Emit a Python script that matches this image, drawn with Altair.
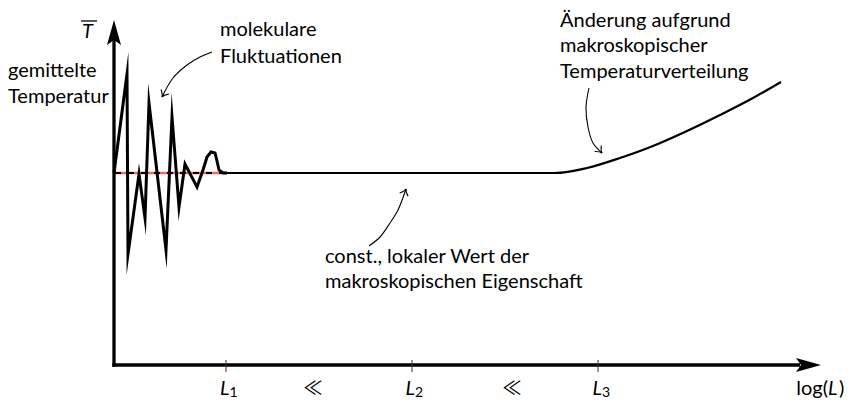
import math
import altair as alt
import pandas as pd

# ---- coordinate frame (origin = corner of the axes) ----
X_DOMAIN = [-106, 730]
Y_DOMAIN = [-34, 357]

# fluctuating curve (molecular fluctuations)
zig_x = [0, 13, 14, 25, 31, 35, 52, 58, 65, 71, 83, 89, 93, 97, 101, 103, 105, 109, 113]
zig_y = [192, 291, 111, 191, 147, 262, 115, 248, 158, 201, 178, 195, 208, 213, 212, 204, 195, 192, 192]

# constant plateau and macroscopic rise
plat_x = [113, 300, 441, 473, 506, 539, 573, 606, 639, 667]
plat_y = [192, 192, 192, 197, 207, 219, 234, 250, 267, 283]

# mean value (dashed) line
mean_x = [1, 113]
mean_y = [192, 192]

# axes
yaxis_top = 325
xaxis_right = 686
yhead_center = 332.5
xhead_center = 694.5

# tick positions on log(L)
tick_x = [112, 298, 484]
tick_lbl_x = [115.5, 301, 488]
tick_sub = ["1", "2", "3"]
ll_x = [199, 398]

# annotation arrows
arr1_x = [98, 86, 73, 59, 48]
arr1_y = [313, 308, 300, 287, 268]
arr2_x = [475, 472, 474, 479, 488]
arr2_y = [277, 258, 238, 222, 212]
arr3_x = [255, 266, 276, 284, 292]
arr3_y = [119, 128, 142, 155, 176]

# annotation texts
txt_lines = ["gemittelte", "Temperatur",
             "molekulare", "Fluktuationen",
             "Änderung aufgrund", "makroskopischer", "Temperaturverteilung",
             "const., lokaler Wert der", "makroskopischen Eigenschaft"]
txt_x = [-106, -106, 106, 106, 446, 446, 446, 211, 211]
txt_y = [288, 262, 329, 302.5, 338, 313, 287, 102, 77]

FONT = "Lato"
xs = alt.Scale(domain=X_DOMAIN, nice=False, zero=False)
ys = alt.Scale(domain=Y_DOMAIN, nice=False, zero=False)
X = alt.X("x:Q", scale=xs, axis=None)
Y = alt.Y("y:Q", scale=ys, axis=None)

layers = []

# red mean line + black dashes
mean_df = pd.DataFrame({"x": mean_x, "y": mean_y, "i": range(len(mean_x))})
layers.append(alt.Chart(mean_df).mark_line(color="#ee6a6a", strokeWidth=2.4).encode(x=X, y=Y, order="i:Q"))
layers.append(alt.Chart(mean_df).mark_line(color="black", strokeWidth=2.2, strokeDash=[6, 7]).encode(x=X, y=Y, order="i:Q"))

# plateau & rise
plat_df = pd.DataFrame({"x": plat_x, "y": plat_y, "i": range(len(plat_x))})
layers.append(alt.Chart(plat_df).mark_line(color="black", strokeWidth=2.2, interpolate="monotone").encode(x=X, y=Y, order="i:Q"))

# fluctuations
zig_df = pd.DataFrame({"x": zig_x, "y": zig_y, "i": range(len(zig_x))})
layers.append(alt.Chart(zig_df).mark_line(color="black", strokeWidth=3, strokeJoin="miter", strokeMiterLimit=20).encode(x=X, y=Y, order="i:Q"))

# axes
ax_df = pd.DataFrame({"x": [0, -1.7], "y": [-1.7, 0], "x2": [0, xaxis_right], "y2": [yaxis_top, 0]})
layers.append(alt.Chart(ax_df).mark_rule(color="black", strokeWidth=3.3, strokeCap="butt").encode(
    x=X, y=Y, x2="x2:Q", y2="y2:Q"))

HEAD = "M0,-1 L0.56,1 L0,0.6 L-0.56,1 Z"
head_df = pd.DataFrame({"x": [0, xhead_center], "y": [yhead_center, 0], "a": [0, 90]})
layers.append(alt.Chart(head_df).mark_point(shape=HEAD, filled=True, size=625, color="black", opacity=1, strokeWidth=0).encode(
    x=X, y=Y, angle=alt.Angle("a:Q", scale=None)))

# ticks
tick_df = pd.DataFrame({"x": tick_x, "y": [-7] * 3, "y2": [5] * 3})
layers.append(alt.Chart(tick_df).mark_rule(color="#333333", strokeWidth=1).encode(x=X, y=Y, y2="y2:Q"))

# annotation arrows
rows = []
heads = []
for k, (ax, ay) in enumerate([(arr1_x, arr1_y), (arr2_x, arr2_y), (arr3_x, arr3_y)]):
    for i, (px, py) in enumerate(zip(ax, ay)):
        rows.append({"x": px, "y": py, "id": k, "i": i})
    dx = ax[-1] - ax[-2]
    dy = ay[-1] - ay[-2]
    ang = math.degrees(math.atan2(-dy, dx)) % 360
    heads.append({"x": ax[-1], "y": ay[-1], "a": ang})
arr_df = pd.DataFrame(rows)
layers.append(alt.Chart(arr_df).mark_line(color="black", strokeWidth=1.1, interpolate="catmull-rom").encode(
    x=X, y=Y, detail="id:N", order="i:Q"))
BARB = "M-1,-0.75 Q-0.45,-0.1 0,0 Q-0.45,0.1 -1,0.75"
layers.append(alt.Chart(pd.DataFrame(heads)).mark_point(shape=BARB, filled=False, size=144, color="black",
                                                        opacity=1, strokeWidth=1.1).encode(
    x=X, y=Y, angle=alt.Angle("a:Q", scale=None)))

# texts
txt_df = pd.DataFrame({"x": txt_x, "y": txt_y, "t": txt_lines})
layers.append(alt.Chart(txt_df).mark_text(align="left", baseline="alphabetic", font=FONT, fontSize=20, color="black").encode(
    x=X, y=Y, text="t:N"))

# T-bar
layers.append(alt.Chart(pd.DataFrame({"x": [-32], "y": [327], "t": ["T"]})).mark_text(
    align="left", baseline="alphabetic", font=FONT, fontSize=20, fontStyle="italic", color="black").encode(x=X, y=Y, text="t:N"))
layers.append(alt.Chart(pd.DataFrame({"x": [-33], "x2": [-17], "y": [344]})).mark_rule(color="black", strokeWidth=1.3).encode(
    x=X, x2="x2:Q", y=Y))

# tick labels L_i
layers.append(alt.Chart(pd.DataFrame({"x": tick_lbl_x, "y": [-30] * 3, "t": ["L"] * 3})).mark_text(
    align="right", baseline="alphabetic", font=FONT, fontSize=20, fontStyle="italic", color="black").encode(x=X, y=Y, text="t:N"))
layers.append(alt.Chart(pd.DataFrame({"x": tick_lbl_x, "y": [-32] * 3, "t": tick_sub})).mark_text(
    align="left", baseline="alphabetic", font=FONT, fontSize=14, color="black").encode(x=X, y=Y, text="t:N"))
layers.append(alt.Chart(pd.DataFrame({"x": ll_x, "y": [-23.5] * 2, "t": ["≪"] * 2})).mark_text(
    align="center", baseline="middle", font="Noto Sans CJK JP", fontSize=19, color="black").encode(x=X, y=Y, text="t:N"))

# log(L)
layers.append(alt.Chart(pd.DataFrame({"x": [714], "y": [-30], "t": ["log("]})).mark_text(
    align="right", baseline="alphabetic", font=FONT, fontSize=20, color="black").encode(x=X, y=Y, text="t:N"))
layers.append(alt.Chart(pd.DataFrame({"x": [714], "y": [-30], "t": ["L"]})).mark_text(
    align="left", baseline="alphabetic", font=FONT, fontSize=20, fontStyle="italic", color="black").encode(x=X, y=Y, text="t:N"))
layers.append(alt.Chart(pd.DataFrame({"x": [725], "y": [-30], "t": [")"]})).mark_text(
    align="left", baseline="alphabetic", font=FONT, fontSize=20, color="black").encode(x=X, y=Y, text="t:N"))

chart = alt.layer(*layers).properties(
    width=836, height=391, padding=0,
    autosize=alt.AutoSizeParams(type="none"),
).configure_view(stroke=None)

chart.save("out.html", embed_options={"renderer": "svg", "actions": False})
